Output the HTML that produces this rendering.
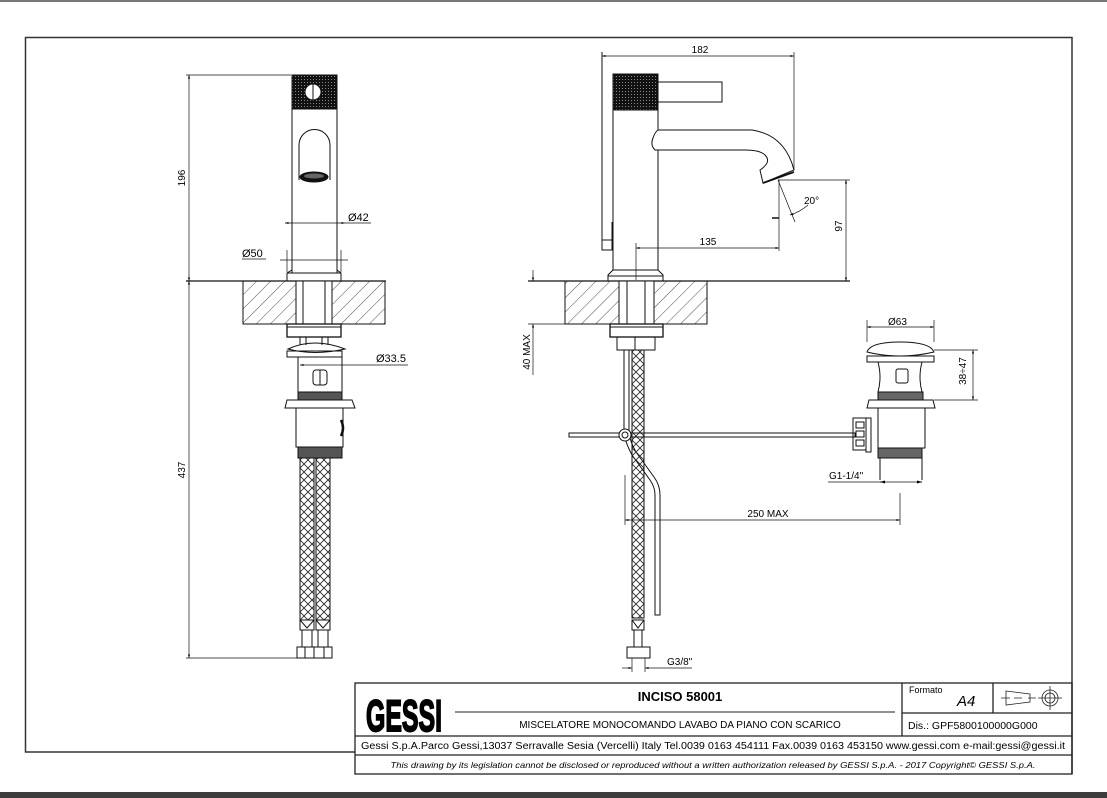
<!DOCTYPE html>
<html><head><meta charset="utf-8"><style>
html,body{margin:0;padding:0;background:#fff;}
svg{display:block;font-family:"Liberation Sans",sans-serif;}
</style></head><body>
<svg width="1107" height="798" viewBox="0 0 1107 798" xmlns="http://www.w3.org/2000/svg">
<defs>
<pattern id="hatch" width="10" height="10" patternUnits="userSpaceOnUse" patternTransform="rotate(45)">
<line x1="0" y1="0" x2="0" y2="10" stroke="#222" stroke-width="0.8"/></pattern>
<pattern id="knurl" width="3" height="3" patternUnits="userSpaceOnUse">
<rect width="3" height="3" fill="#111"/><rect x="1" y="1" width="1" height="1" fill="#888"/></pattern>
<pattern id="braid" width="8" height="8" patternUnits="userSpaceOnUse">
<path d="M0 0L8 8M8 0L0 8" stroke="#222" stroke-width="0.8"/></pattern>
<marker id="ar" viewBox="0 0 10 10" refX="10" refY="5" markerWidth="7" markerHeight="5" orient="auto-start-reverse">
<path d="M0 2L10 5L0 8z" fill="#000"/></marker>
</defs>
<rect x="0" y="0" width="1107" height="2" fill="#777"/>
<rect x="0" y="792" width="1107" height="6" fill="#3c3c3c"/>
<g fill="none" stroke="#333" stroke-width="1.5">
<path d="M355 752H25.5V37.5H1072V774"/>
</g>
<g fill="none" stroke="#111" stroke-width="1">
<!-- LEFT VIEW -->
<line x1="186" y1="75" x2="291" y2="75" stroke-width="0.7"/>
<line x1="189" y1="75" x2="189" y2="281" stroke-width="0.7" marker-start="url(#ar)" marker-end="url(#ar)"/>
<line x1="189" y1="281" x2="189" y2="658" stroke-width="0.7" marker-start="url(#ar)" marker-end="url(#ar)"/>
<line x1="186" y1="658" x2="298" y2="658" stroke-width="0.7"/>
<text x="185" y="178" font-size="10" fill="#000" stroke="none" transform="rotate(-90 185 178)" text-anchor="middle">196</text>
<text x="185" y="470" font-size="10" fill="#000" stroke="none" transform="rotate(-90 185 470)" text-anchor="middle">437</text>
<rect x="292" y="75" width="45" height="34" fill="url(#knurl)"/>
<circle cx="313" cy="92" r="8" fill="#fff"/>
<line x1="313" y1="84" x2="313" y2="100"/>
<rect x="292" y="109" width="45" height="164"/>
<path d="M287 281V273L292 270M341 281V273L337 270M287 273H341"/>
<path d="M299 180V145A15.5 15.5 0 0 1 330 145V180"/>
<ellipse cx="314" cy="177" rx="14" ry="5" fill="#111"/>
<ellipse cx="314" cy="176" rx="10" ry="2.5" fill="#666" stroke="none"/>
<line x1="285" y1="223" x2="345" y2="223" stroke-width="0.7" marker-start="url(#ar)" marker-end="url(#ar)"/>
<line x1="345" y1="223" x2="371" y2="223" stroke-width="0.7"/>
<text x="348" y="221" font-size="11" fill="#000" stroke="none">Ø42</text>
<line x1="280" y1="260" x2="348" y2="260" stroke-width="0.7"/>
<line x1="287" y1="250" x2="287" y2="272" stroke-width="0.7"/>
<line x1="341" y1="250" x2="341" y2="272" stroke-width="0.7"/>
<line x1="242" y1="259" x2="266" y2="259" stroke-width="0.7"/>
<text x="242" y="257" font-size="11" fill="#000" stroke="none">Ø50</text>
<line x1="186" y1="281" x2="386" y2="281" stroke-width="1.3"/>
<rect x="243" y="281" width="142" height="43" fill="url(#hatch)"/>
<rect x="296" y="281" width="36" height="43" fill="#fff"/>
<line x1="303" y1="281" x2="303" y2="324"/><line x1="325" y1="281" x2="325" y2="324"/>
<rect x="287" y="324" width="54" height="13" fill="#fff" stroke-width="1.3"/>
<line x1="287" y1="327" x2="341" y2="327"/>
<path d="M300 337V345M306 337V345M322 337V345M328 337V345"/>
<path d="M288 349Q314 337 345 349Q314 356 288 349z"/>
<rect x="287" y="351" width="55" height="6"/>
<line x1="300" y1="365" x2="408" y2="365" stroke-width="0.7" marker-start="url(#ar)"/>
<text x="376" y="362" font-size="11" fill="#000" stroke="none">Ø33.5</text>
<path d="M298 357V392H342V357"/>
<rect x="313" y="370" width="14" height="15" rx="3"/>
<line x1="320" y1="370" x2="320" y2="385"/>
<rect x="298" y="392" width="44" height="8" fill="#555"/>
<path d="M285 408L287 400H352L355 408z"/>
<rect x="296" y="408" width="47" height="39"/>
<path d="M341 420q4 8 0 16" stroke-width="2.5"/>
<rect x="298" y="447" width="44" height="11" fill="#555"/>
<rect x="300" y="458" width="14" height="162" fill="url(#braid)"/>
<rect x="316" y="458" width="14" height="162" fill="url(#braid)"/>
<path d="M300 620h14v10h-14zM316 620h14v10h-14zM302 630h10v17h-10zM318 630h10v17h-10z"/>
<path d="M300 620l7 8 7-8M316 620l7 8 7-8"/>
<rect x="297" y="647" width="35" height="11"/>
<path d="M305 647v11M314 647v11M324 647v11"/>
<!-- RIGHT VIEW -->
<line x1="602" y1="56" x2="794" y2="56" stroke-width="0.7" marker-start="url(#ar)" marker-end="url(#ar)"/>
<text x="700" y="53" font-size="10" fill="#000" stroke="none" text-anchor="middle">182</text>
<line x1="602" y1="52" x2="602" y2="240"/>
<line x1="612" y1="222" x2="612" y2="240"/>
<rect x="602" y="240" width="10" height="10"/>
<line x1="794" y1="52" x2="794" y2="170" stroke-width="0.7"/>
<rect x="613" y="74" width="45" height="36" fill="url(#knurl)"/>
<rect x="658" y="82" width="64" height="20"/>
<rect x="613" y="110" width="45" height="160"/>
<path d="M608 281V275L613 270M663 281V275L658 270M608 276H663"/>
<path d="M658 130H752Q785 135 794 170L763 183L760 170Q772 162 765 155Q760 150 745 150H655Q650 145 653 138Q655 132 658 130" fill="#fff"/>
<line x1="763" y1="183" x2="794" y2="172" stroke-width="1.8"/>
<line x1="778" y1="180" x2="850" y2="180" stroke-width="0.7"/>
<line x1="778" y1="180" x2="795" y2="222" stroke-width="0.7"/>
<path d="M790 215Q800 212 808 205" stroke-width="0.7" marker-start="url(#ar)"/>
<text x="804" y="204" font-size="10" fill="#000" stroke="none">20°</text>
<line x1="846" y1="180" x2="846" y2="281" stroke-width="0.7" marker-start="url(#ar)" marker-end="url(#ar)"/>
<text x="846" y="230" font-size="10" fill="#000" stroke="none" transform="rotate(-90 842 230)" text-anchor="middle">97</text>
<line x1="779" y1="180" x2="779" y2="251" stroke-width="0.7"/>
<line x1="772" y1="218" x2="779" y2="218" stroke-width="1.5"/>
<line x1="636" y1="243" x2="636" y2="280" stroke-width="0.7"/>
<line x1="636" y1="248" x2="779" y2="248" stroke-width="0.7" marker-start="url(#ar)" marker-end="url(#ar)"/>
<text x="708" y="245" font-size="10" fill="#000" stroke="none" text-anchor="middle">135</text>
<line x1="528" y1="281" x2="850" y2="281" stroke-width="1.3"/>
<rect x="565" y="281" width="142" height="43" fill="url(#hatch)"/>
<rect x="619" y="281" width="35" height="43" fill="#fff"/>
<line x1="627" y1="281" x2="627" y2="324"/><line x1="645" y1="281" x2="645" y2="324"/>
<line x1="528" y1="324" x2="565" y2="324" stroke-width="0.7"/>
<line x1="533" y1="270" x2="533" y2="281" stroke-width="0.7" marker-end="url(#ar)"/>
<line x1="533" y1="375" x2="533" y2="324" stroke-width="0.7" marker-end="url(#ar)"/>
<text x="530" y="352" font-size="10" fill="#000" stroke="none" transform="rotate(-90 530 352)" text-anchor="middle">40 MAX</text>
<rect x="610" y="324" width="53" height="13" fill="#fff" stroke-width="1.3"/>
<line x1="610" y1="327" x2="663" y2="327"/>
<path d="M617 337h38v13h-38zM635 337v13"/>
<path d="M624 350V430Q624 440 632 455L650 480Q655 487 655 495V615H660V495Q660 485 654 477L636 452Q629 440 629 430V350z" fill="#fff"/>
<rect x="632" y="350" width="12" height="268" fill="url(#braid)"/>
<rect x="569" y="433" width="286" height="4"/>
<circle cx="625" cy="435" r="6" fill="#fff"/><circle cx="625" cy="435" r="3"/>
<path d="M632 620h12v10h-12zM634 630h8v17h-8zM632 620l6 8 6-8"/>
<rect x="627" y="647" width="23" height="11"/>
<line x1="622" y1="668" x2="632" y2="668" stroke-width="0.7" marker-end="url(#ar)"/>
<line x1="665" y1="668" x2="645" y2="668" stroke-width="0.7" marker-end="url(#ar)"/>
<line x1="632" y1="658" x2="632" y2="672" stroke-width="0.7"/><line x1="645" y1="658" x2="645" y2="672" stroke-width="0.7"/>
<line x1="665" y1="668" x2="692" y2="668" stroke-width="0.7"/>
<text x="667" y="665" font-size="10" fill="#000" stroke="none">G3/8"</text>
<line x1="625" y1="475" x2="625" y2="525" stroke-width="0.7"/>
<line x1="900" y1="493" x2="900" y2="525" stroke-width="0.7"/>
<line x1="625" y1="520" x2="900" y2="520" stroke-width="0.7" marker-start="url(#ar)" marker-end="url(#ar)"/>
<text x="768" y="517" font-size="10" fill="#000" stroke="none" text-anchor="middle">250 MAX</text>
<!-- drain -->
<path d="M867 352Q870 342 900 342Q930 342 934 352Q900 360 867 352z"/>
<rect x="867" y="356" width="67" height="6"/>
<path d="M878 362Q882 377 878 392H922Q918 377 922 362"/>
<rect x="896" y="369" width="12" height="14" rx="2"/>
<rect x="878" y="392" width="45" height="8" fill="#666"/>
<path d="M867 408L869 400H933L935 408z"/>
<path d="M878 408V448H925V408"/>
<path d="M871 418H866V452H871z"/>
<path d="M853 418h13v32h-13zM856 422h8v6h-8zM856 431h8v6h-8zM856 440h8v6h-8z"/>
<rect x="878" y="448" width="44" height="10" fill="#666"/>
<path d="M880 458V480M922 458V480"/>
<line x1="867" y1="320" x2="867" y2="342" stroke-width="0.7"/><line x1="934" y1="320" x2="934" y2="342" stroke-width="0.7"/>
<line x1="867" y1="327" x2="934" y2="327" stroke-width="0.7" marker-start="url(#ar)" marker-end="url(#ar)"/>
<text x="888" y="325" font-size="10" fill="#000" stroke="none">Ø63</text>
<line x1="934" y1="350" x2="978" y2="350" stroke-width="0.7"/>
<line x1="934" y1="400" x2="978" y2="400" stroke-width="0.7"/>
<line x1="973" y1="350" x2="973" y2="400" stroke-width="0.7" marker-start="url(#ar)" marker-end="url(#ar)"/>
<text x="970" y="375" font-size="10" fill="#000" stroke="none" transform="rotate(-90 966 375)" text-anchor="middle">38÷47</text>
<line x1="828" y1="482" x2="922" y2="482" stroke-width="0.7"/>
<line x1="880" y1="482" x2="885" y2="482" marker-start="url(#ar)"/>
<line x1="917" y1="482" x2="922" y2="482" marker-end="url(#ar)"/>
<text x="829" y="479" font-size="10" fill="#000" stroke="none">G1-1/4"</text>
</g>
<!-- TITLE BLOCK -->
<g fill="none" stroke="#222" stroke-width="1.3">
<rect x="355" y="683" width="717" height="91"/>
<line x1="355" y1="736" x2="1072" y2="736"/>
<line x1="355" y1="755" x2="1072" y2="755"/>
<line x1="902" y1="683" x2="902" y2="736"/>
<line x1="993" y1="683" x2="993" y2="713"/>
<line x1="902" y1="713" x2="1072" y2="713"/>
<line x1="455" y1="712" x2="895" y2="712" stroke-width="1"/>
<path d="M1006 691L1030 694V702L1006 705z" stroke-width="0.8"/>
<path d="M1001 698H1010M1014 698H1022M1028 698H1036" stroke-width="0.8"/>
<circle cx="1050" cy="698" r="8" stroke-width="0.8"/><circle cx="1050" cy="698" r="5" stroke-width="0.8"/>
<path d="M1038 698H1062M1050 686V710" stroke-width="0.8"/>
</g>
<text transform="translate(366,731) scale(1,1.6)" font-size="28" font-weight="bold" fill="#000" stroke="#000" stroke-width="1.2" textLength="76" lengthAdjust="spacingAndGlyphs">GESSI</text>
<text x="680" y="701" font-size="13" font-weight="bold" fill="#000" text-anchor="middle">INCISO 58001</text>
<text x="680" y="728" font-size="10" fill="#000" text-anchor="middle">MISCELATORE MONOCOMANDO LAVABO DA PIANO CON SCARICO</text>
<text x="909" y="693" font-size="9" fill="#000">Formato</text>
<text x="957" y="706" font-size="15" font-style="italic" fill="#000">A4</text>
<text x="908" y="729" font-size="10.5" fill="#000">Dis.: GPF5800100000G000</text>
<text x="713" y="749" font-size="10" fill="#000" text-anchor="middle" textLength="704" lengthAdjust="spacingAndGlyphs">Gessi S.p.A.Parco Gessi,13037 Serravalle Sesia (Vercelli) Italy Tel.0039 0163 454111 Fax.0039 0163 453150 www.gessi.com e-mail:gessi@gessi.it</text>
<text x="713" y="768" font-size="8.5" font-style="italic" fill="#000" text-anchor="middle" textLength="645" lengthAdjust="spacingAndGlyphs">This drawing by its legislation cannot be disclosed or reproduced without a written authorization released by GESSI S.p.A. - 2017 Copyright© GESSI S.p.A.</text>
</svg>
</body></html>
